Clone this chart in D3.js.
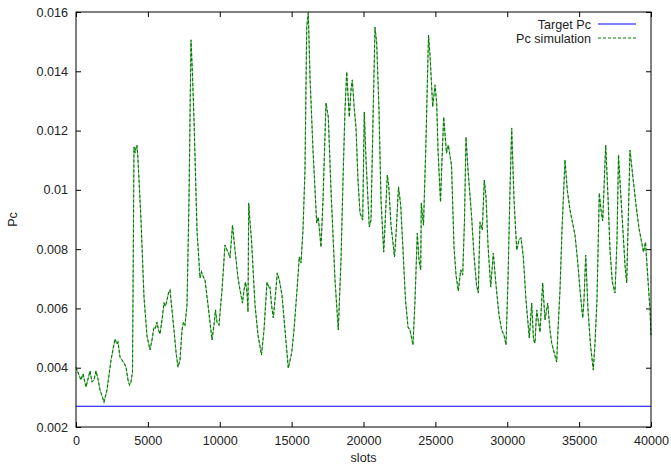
<!DOCTYPE html>
<html>
<head>
<meta charset="utf-8">
<script src="https://cdn.jsdelivr.net/npm/d3@7"></script>
<style>
  html, body { margin: 0; padding: 0; background: #fff; }
  svg text { font-family: "Liberation Sans", Arial, sans-serif; font-size: 12.6px; fill: #222; }
</style>
</head>
<body>
<svg id="chart" width="671" height="467"></svg>
<script>
// Simulated collision probability per slot
const slots = [0,209,348,487,696,974,1113,1252,1391,1530,1670,1948,2157,2435,2713,2852,2922,3061,3200,3339,3478,3617,3722,3826,3930,
  4035,4104,4174,4243,4313,4522,4730,4939,5148,5287,5426,5530,5635,5739,5843,5983,6122,6226,6330,6435,6539,6678,6817,6957,7096,
  7235,7374,7478,7583,7722,7861,8000,8104,8209,8417,8626,8730,8835,8974,9183,9461,9600,9704,9809,9948,10157,10365,10504,10609,10713,
  10887,11061,11270,11409,11583,11687,11791,11896,11965,12014,12104,12209,12452,12661,12904,13078,13287,13426,13496,13600,13725,13843,14003,14143,14330,
  14539,14769,15005,15165,15374,15534,15652,15791,15930,16049,16160,16278,16487,16744,16855,17043,17183,17391,17551,17739,18017,18247,18435,18574,18713,
  18831,18922,19012,19130,19221,19339,19478,19617,19757,19944,20055,20174,20403,20522,20661,20800,20918,21078,21217,21405,21530,21655,21753,21913,22157,
  22261,22435,22588,22748,22922,23096,23235,23443,23583,23743,23861,23979,24021,24174,24348,24522,24626,24814,24974,25092,25183,25357,25461,25579,25774,
  25899,26122,26296,26435,26595,26762,26901,27026,27130,27270,27513,27687,27861,27986,28104,28264,28403,28522,28661,28849,29030,29217,29426,29614,29774,
  29913,30052,30191,30309,30470,30657,30817,30957,31117,31304,31534,31701,31826,31930,32049,32174,32278,32466,32626,32814,32974,33092,33252,33440,33530,
  33670,33809,34017,34177,34365,34713,34901,35061,35249,35339,35457,35617,35791,35986,36104,36243,36403,36522,36640,36849,37009,37148,37308,37496,37635,
  37739,37878,38017,38191,38309,38400,38539,38769,38957,39165,39478,39617,39791,39930,40000];

const pcSim = [0.00402,0.00375,0.00359,0.00379,0.00335,0.00389,0.00352,0.00359,0.00389,0.00362,0.00325,0.00284,0.00325,0.00426,0.00497,0.00480,0.00487,0.00436,0.00426,0.00416,0.00402,0.00359,0.00342,0.00352,0.00386,
  0.01145,0.01124,0.01141,0.01151,0.01101,0.00898,0.00639,0.00507,0.00460,0.00494,0.00537,0.00534,0.00554,0.00527,0.00514,0.00561,0.00618,0.00608,0.00628,0.00652,0.00662,0.00595,0.00527,0.00453,0.00402,
  0.00426,0.00527,0.00554,0.00544,0.00612,0.00966,0.01506,0.01387,0.01236,0.00865,0.00703,0.00723,0.00709,0.00696,0.00612,0.00494,0.00544,0.00595,0.00554,0.00544,0.00662,0.00814,0.00797,0.00787,0.00770,
  0.00881,0.00797,0.00703,0.00662,0.00618,0.00662,0.00689,0.00655,0.00588,0.00956,0.00892,0.00831,0.00612,0.00510,0.00443,0.00527,0.00689,0.00669,0.00672,0.00612,0.00568,0.00628,0.00720,0.00696,0.00645,
  0.00527,0.00399,0.00450,0.00527,0.00662,0.00774,0.00753,0.00865,0.01067,0.01549,0.01598,0.01381,0.01134,0.00888,0.00908,0.00807,0.00966,0.01293,0.01246,0.00999,0.00696,0.00527,0.00763,0.01033,0.01269,
  0.01398,0.01320,0.01246,0.01337,0.01371,0.01286,0.01209,0.01033,0.00922,0.00898,0.01263,0.01101,0.00875,0.00898,0.01236,0.01549,0.01495,0.01269,0.00966,0.00790,0.00915,0.01050,0.01016,0.00881,0.00774,
  0.00848,0.01010,0.00949,0.00797,0.00628,0.00537,0.00527,0.00477,0.00628,0.00854,0.00763,0.00730,0.00956,0.00881,0.01168,0.01522,0.01455,0.01280,0.01354,0.01293,0.01134,0.00959,0.01101,0.01246,0.01124,
  0.01151,0.01084,0.00807,0.00713,0.00659,0.00730,0.00713,0.00898,0.01178,0.01067,0.00915,0.00780,0.00679,0.00652,0.00892,0.00865,0.01033,0.00976,0.00814,0.00672,0.00787,0.00679,0.00578,0.00527,0.00510,
  0.00477,0.00696,0.00999,0.01209,0.00966,0.00797,0.00831,0.00838,0.00774,0.00628,0.00500,0.00618,0.00494,0.00483,0.00595,0.00554,0.00520,0.00686,0.00561,0.00618,0.00527,0.00483,0.00453,0.00419,0.00527,
  0.00662,0.00865,0.01101,0.00999,0.00932,0.00848,0.00757,0.00662,0.00568,0.00628,0.00780,0.00595,0.00477,0.00392,0.00483,0.00628,0.00989,0.00932,0.00895,0.01151,0.00976,0.00797,0.00689,0.00652,0.00831,
  0.01118,0.00999,0.00888,0.00747,0.00686,0.00865,0.01134,0.01030,0.00949,0.00871,0.00790,0.00824,0.00696,0.00595,0.00510];

// Target collision probability (constant)
const targetPc = 0.0027;

const xTicks = [0, 5000, 10000, 15000, 20000, 25000, 30000, 35000, 40000];
const yTicks = [0.002, 0.004, 0.006, 0.008, 0.01, 0.012, 0.014, 0.016];
const seriesNames = ["Target Pc", "Pc simulation"];

const margin = { left: 76, right: 20, top: 12, bottom: 40 };
const W = 671, H = 467;
const iw = W - margin.left - margin.right;
const ih = H - margin.top - margin.bottom;

const svg = d3.select("#chart");
const g = svg.append("g").attr("transform", `translate(${margin.left},${margin.top})`);

const x = d3.scaleLinear().domain([0, 40000]).range([0, iw]);
const y = d3.scaleLinear().domain([0.002, 0.016]).range([ih, 0]);

const fmtY = d => (d === 0.01 ? "0.01" : d3.format(".3f")(d));

// Axes: ticks pointing inward, mirrored on the opposite side
const tickLen = 5;
g.append("g").attr("transform", `translate(0,${ih})`)
  .call(d3.axisBottom(x).tickValues(xTicks).tickSizeInner(-tickLen).tickSizeOuter(0).tickPadding(9).tickFormat(d3.format("d")))
  .call(a => a.select(".domain").remove());
g.append("g")
  .call(d3.axisTop(x).tickValues(xTicks).tickSizeInner(-tickLen).tickSizeOuter(0).tickFormat(""))
  .call(a => a.select(".domain").remove());
g.append("g")
  .call(d3.axisLeft(y).tickValues(yTicks).tickSizeInner(-tickLen).tickSizeOuter(0).tickPadding(8).tickFormat(fmtY))
  .call(a => a.select(".domain").remove());
g.append("g").attr("transform", `translate(${iw},0)`)
  .call(d3.axisRight(y).tickValues(yTicks).tickSizeInner(-tickLen).tickSizeOuter(0).tickFormat(""))
  .call(a => a.select(".domain").remove());

svg.selectAll(".tick line").attr("stroke", "#000");
svg.selectAll(".tick text").attr("fill", "#222").style("font-size", "12.6px")
  .style("font-family", '"Liberation Sans", Arial, sans-serif');

// Target line
g.append("line")
  .attr("x1", x(0)).attr("x2", x(40000))
  .attr("y1", y(targetPc)).attr("y2", y(targetPc))
  .attr("stroke", "#0000ff").attr("stroke-width", 1.2);

// Simulation line
const simData = slots.map((s, i) => [s, pcSim[i]]);
const line = d3.line().x(d => x(d[0])).y(d => y(d[1]));
g.append("path").datum(simData)
  .attr("d", line).attr("fill", "none")
  .attr("stroke", "#7cbf7c").attr("stroke-width", 1);
g.append("path").datum(simData)
  .attr("d", line).attr("fill", "none")
  .attr("stroke", "#007a00").attr("stroke-width", 1.1)
  .attr("stroke-dasharray", "3,2");

// Frame
g.append("rect").attr("x", 0).attr("y", 0).attr("width", iw).attr("height", ih)
  .attr("fill", "none").attr("stroke", "#000").attr("stroke-width", 1);

// Axis titles
svg.append("text").attr("x", margin.left + iw / 2).attr("y", 462)
  .attr("text-anchor", "middle").text("slots");
svg.append("text").attr("transform", `translate(17,${margin.top + ih / 2}) rotate(-90)`)
  .attr("text-anchor", "middle").text("Pc");

// Legend
const legend = svg.append("g");
const legendRows = [
  { name: seriesNames[0], color: "#0000ff", dash: null, y: 24 },
  { name: seriesNames[1], color: "#008000", dash: "3,2", y: 38 }
];
legendRows.forEach(r => {
  legend.append("text").attr("x", 591).attr("y", r.y + 4.5)
    .attr("text-anchor", "end").text(r.name);
  legend.append("line").attr("x1", 598).attr("x2", 636).attr("y1", r.y).attr("y2", r.y)
    .attr("stroke", r.color).attr("stroke-width", 1.1)
    .attr("stroke-dasharray", r.dash);
});
</script>
</body>
</html>
